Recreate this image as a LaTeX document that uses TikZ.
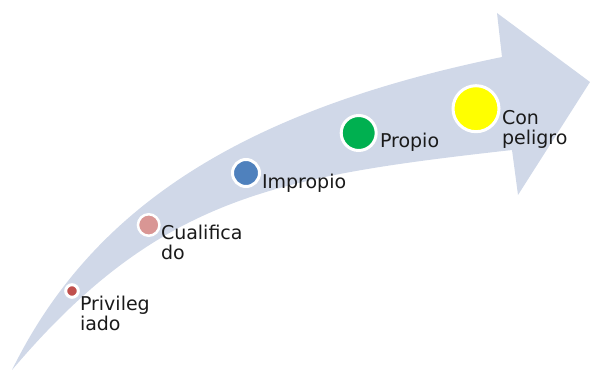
\documentclass[tikz,border=0pt]{standalone}
\usepackage{fontspec}
\newfontfamily\lblfont{DejaVu Sans}
\definecolor{arrowfill}{HTML}{D0D8E8}
\definecolor{cred}{HTML}{C0504D}
\definecolor{cpink}{HTML}{D99694}
\definecolor{cblue}{HTML}{4F81BD}
\definecolor{cgreen}{HTML}{00B050}
\definecolor{cyellow}{HTML}{FFFF00}
\definecolor{txt}{HTML}{1A1A1A}
\tikzset{
  dot/.style={circle, draw=white, line width=3pt, inner sep=0pt, outer sep=0pt},
  lbl/.style={inner sep=0pt, outer sep=0pt, align=left, text=txt,
    font=\lblfont\fontsize{19}{20}\selectfont, anchor=base west}
}
\begin{document}
\begin{tikzpicture}[x=1pt,y=-1pt]
\useasboundingbox (0,0) rectangle (590,371);
\fill[arrowfill] (12,370) .. controls (92,207) and (243,110) .. (502,57)
  -- (497,13) -- (590,82) -- (518,195) -- (512,150)
  .. controls (277,176.5) and (159.5,196) .. cycle;
\node[dot, fill=cred, minimum size=12.6pt] (d1) at (72,291) {};
\node[dot, fill=cpink, minimum size=21.5pt, line width=2.5pt] (d2) at (148.7,225) {};
\node[dot, fill=cblue, minimum size=27pt] (d3) at (246,173) {};
\node[dot, fill=cgreen, minimum size=35pt] (d4) at (358.7,133) {};
\node[dot, fill=cyellow, minimum size=46pt] (d5) at (476,108.7) {};
% two-line labels: base anchor is the last line's baseline
\node[lbl] (t1) at (80,331) {Privileg\\iado};
\node[lbl] (t2) at (161,260) {Cualifica\\do};
\node[lbl] (t3) at (262,189) {Impropio};
\node[lbl] (t4) at (380,148) {Propio};
\node[lbl] (t5) at (502,145) {Con\\peligro};
\end{tikzpicture}
\end{document}
